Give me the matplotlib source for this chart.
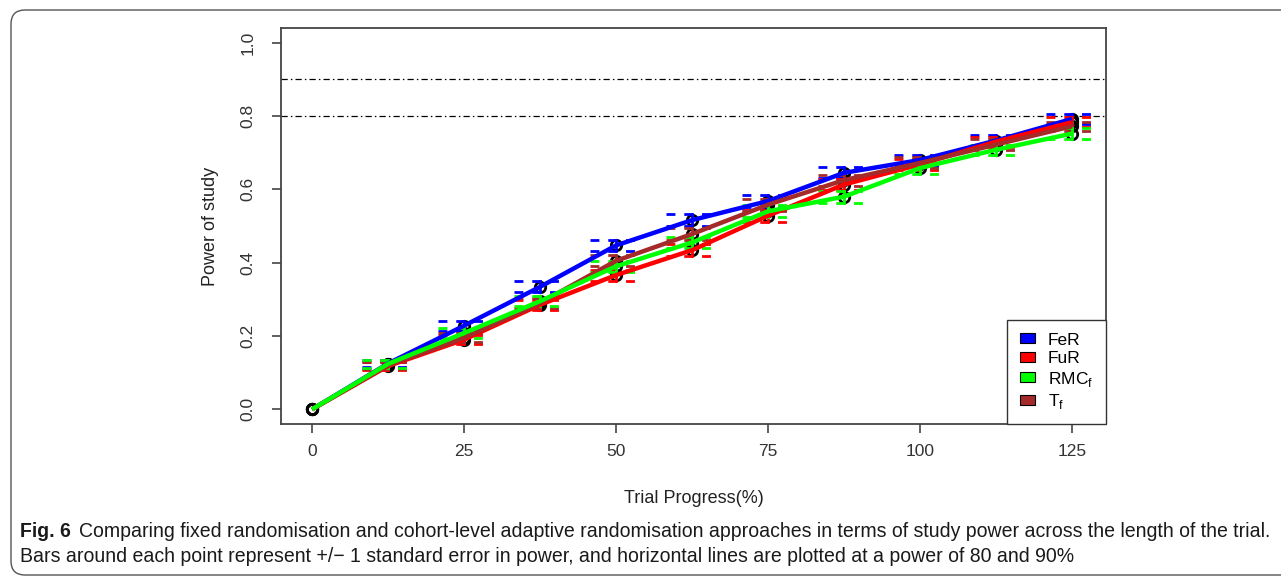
import matplotlib
matplotlib.use('Agg')
import matplotlib.pyplot as plt
from matplotlib.patches import Patch, FancyBboxPatch
from matplotlib.transforms import IdentityTransform

# ---------------- data ----------------
progress = [0, 12.5, 25, 37.5, 50, 62.5, 75, 87.5, 100, 112.5, 125]
fer = [0.0, 0.125, 0.228, 0.334, 0.447, 0.516, 0.568, 0.645, 0.680, 0.733, 0.792]
fur = [0.0, 0.118, 0.190, 0.285, 0.366, 0.434, 0.528, 0.613, 0.668, 0.730, 0.783]
rmc = [0.0, 0.124, 0.208, 0.295, 0.390, 0.455, 0.540, 0.580, 0.658, 0.708, 0.752]
tf = [0.0, 0.120, 0.195, 0.290, 0.405, 0.478, 0.558, 0.625, 0.672, 0.722, 0.772]
se_fer = [0.0, 0.010, 0.013, 0.015, 0.016, 0.016, 0.016, 0.015, 0.015, 0.014, 0.013]
se_fur = [0.0, 0.010, 0.012, 0.014, 0.015, 0.016, 0.016, 0.015, 0.015, 0.014, 0.013]
se_rmc = [0.0, 0.010, 0.013, 0.014, 0.015, 0.016, 0.016, 0.016, 0.015, 0.014, 0.014]
se_tf = [0.0, 0.010, 0.012, 0.014, 0.015, 0.016, 0.016, 0.015, 0.015, 0.014, 0.013]
series_labels = ["FeR", "FuR", r"RMC$_\mathregular{f}$", r"T$_\mathregular{f}$"]
series_colors = ["#0000ff", "#ff0000", "#00ff00", "#a52a2a"]
ref_lines = [0.8, 0.9]
x_ticks = [0, 25, 50, 75, 100, 125]
y_ticks = [0.0, 0.2, 0.4, 0.6, 0.8, 1.0]
x_label = "Trial Progress(%)"
y_label = "Power of study"
cap_bold = "Fig. 6"
cap_line1 = "Comparing fixed randomisation and cohort-level adaptive randomisation approaches in terms of study power across the length of the trial."
cap_line2 = "Bars around each point represent +/\u2212 1 standard error in power, and horizontal lines are plotted at a power of 80 and 90%"

W, H = 1281, 577
plt.rcParams['font.family'] = ['Liberation Sans', 'DejaVu Sans']
fig = plt.figure(figsize=(W / 100, H / 100), dpi=100)
fig.patch.set_facecolor('white')

ax = fig.add_axes([281 / W, 1 - 424 / H, (1106 - 281) / W, (424 - 28) / H])
ax.set_xlim(-5.1, 130.6)
ax.set_ylim(-0.04, 1.04)

for yv in ref_lines:
    ax.axhline(yv, color='black', lw=0.9, dashes=(5, 2.5, 1.2, 2.5), zorder=1)

all_vals = [fer, fur, tf, rmc]
all_se = [se_fer, se_fur, se_tf, se_rmc]
all_cols = [series_colors[0], series_colors[1], series_colors[3], series_colors[2]]

# black open markers underneath
for vals in all_vals:
    ax.plot(progress, vals, linestyle='none', marker='o', ms=7.5, mfc='none',
            mec='black', mew=2.0, zorder=2)

# error bars (dashed caps)
cap_half = 4.3
for vals, se, col in zip(all_vals, all_se, all_cols):
    for xv, yv, s in zip(progress, vals, se):
        if s <= 0:
            continue
        for yy in (yv - s, yv + s):
            ax.plot([xv - cap_half, xv + cap_half], [yy, yy], color=col, lw=2,
                    dashes=(3.2, 3.2), zorder=3)
        ax.plot([xv, xv], [yv - s, yv + s], color=col, lw=2, zorder=3)

# lines
for vals, col in zip(all_vals, all_cols):
    ax.plot(progress, vals, color=col, lw=3.2, zorder=4, solid_capstyle='butt')

for sp in ax.spines.values():
    sp.set_color('#444444')
    sp.set_linewidth(1.3)
ax.set_xticks(x_ticks)
ax.set_xticklabels([str(v) for v in x_ticks])
ax.set_yticks(y_ticks)
ax.set_yticklabels([f"{v:.1f}" for v in y_ticks])
ax.tick_params(axis='both', length=6.5, width=1.2, color='#444444',
               labelsize=12.5, labelcolor='#333333')
ax.tick_params(axis='x', pad=8)
ax.tick_params(axis='y', pad=12, labelrotation=90)
for lab in ax.get_yticklabels():
    lab.set_verticalalignment('center')
ax.set_xlabel(x_label, fontsize=13, color='#222222', labelpad=22)
ax.set_ylabel(y_label, fontsize=13, color='#222222', labelpad=15)

handles = [Patch(facecolor=c, edgecolor='black', lw=0.8) for c in series_colors]
leg = ax.legend(handles, series_labels, loc='lower right', borderaxespad=0,
                fancybox=False, edgecolor='#333333', fontsize=12.5,
                handlelength=0.85, handleheight=0.5, labelspacing=0.2,
                handletextpad=0.75, borderpad=0.75, framealpha=1)
leg.get_frame().set_linewidth(1.0)
leg.set_zorder(10)

# caption frame
frame = FancyBboxPatch((11, 2), 1300, 565, boxstyle='round,pad=0,rounding_size=14',
                       transform=IdentityTransform(), fill=False,
                       edgecolor='#555555', lw=1.0)
fig.add_artist(frame)

# caption text
cap_fonts = ['Liberation Sans Narrow', 'Liberation Sans', 'DejaVu Sans']
renderer = fig.canvas.get_renderer()
fs = 12
tb = fig.text(20 / W, 1 - 537 / H, cap_bold, fontsize=fs, fontweight='bold',
              family=cap_fonts, color='#1a1a1a', va='baseline')
t1 = fig.text(0, 1 - 537 / H, cap_line1, fontsize=fs, family=cap_fonts,
              color='#1a1a1a', va='baseline')
t2 = fig.text(20 / W, 1 - 562 / H, cap_line2, fontsize=fs, family=cap_fonts,
              color='#1a1a1a', va='baseline')
# fit line 1 into the caption width
for _ in range(3):
    bw = tb.get_window_extent(renderer).width
    w1 = t1.get_window_extent(renderer).width
    total = bw + 8 + w1
    fs = fs * (1268 - 20) / total
    for t in (tb, t1, t2):
        t.set_fontsize(fs)
bw = tb.get_window_extent(renderer).width
t1.set_x((20 + bw + 8) / W)

fig.savefig('out.png', dpi=100)
